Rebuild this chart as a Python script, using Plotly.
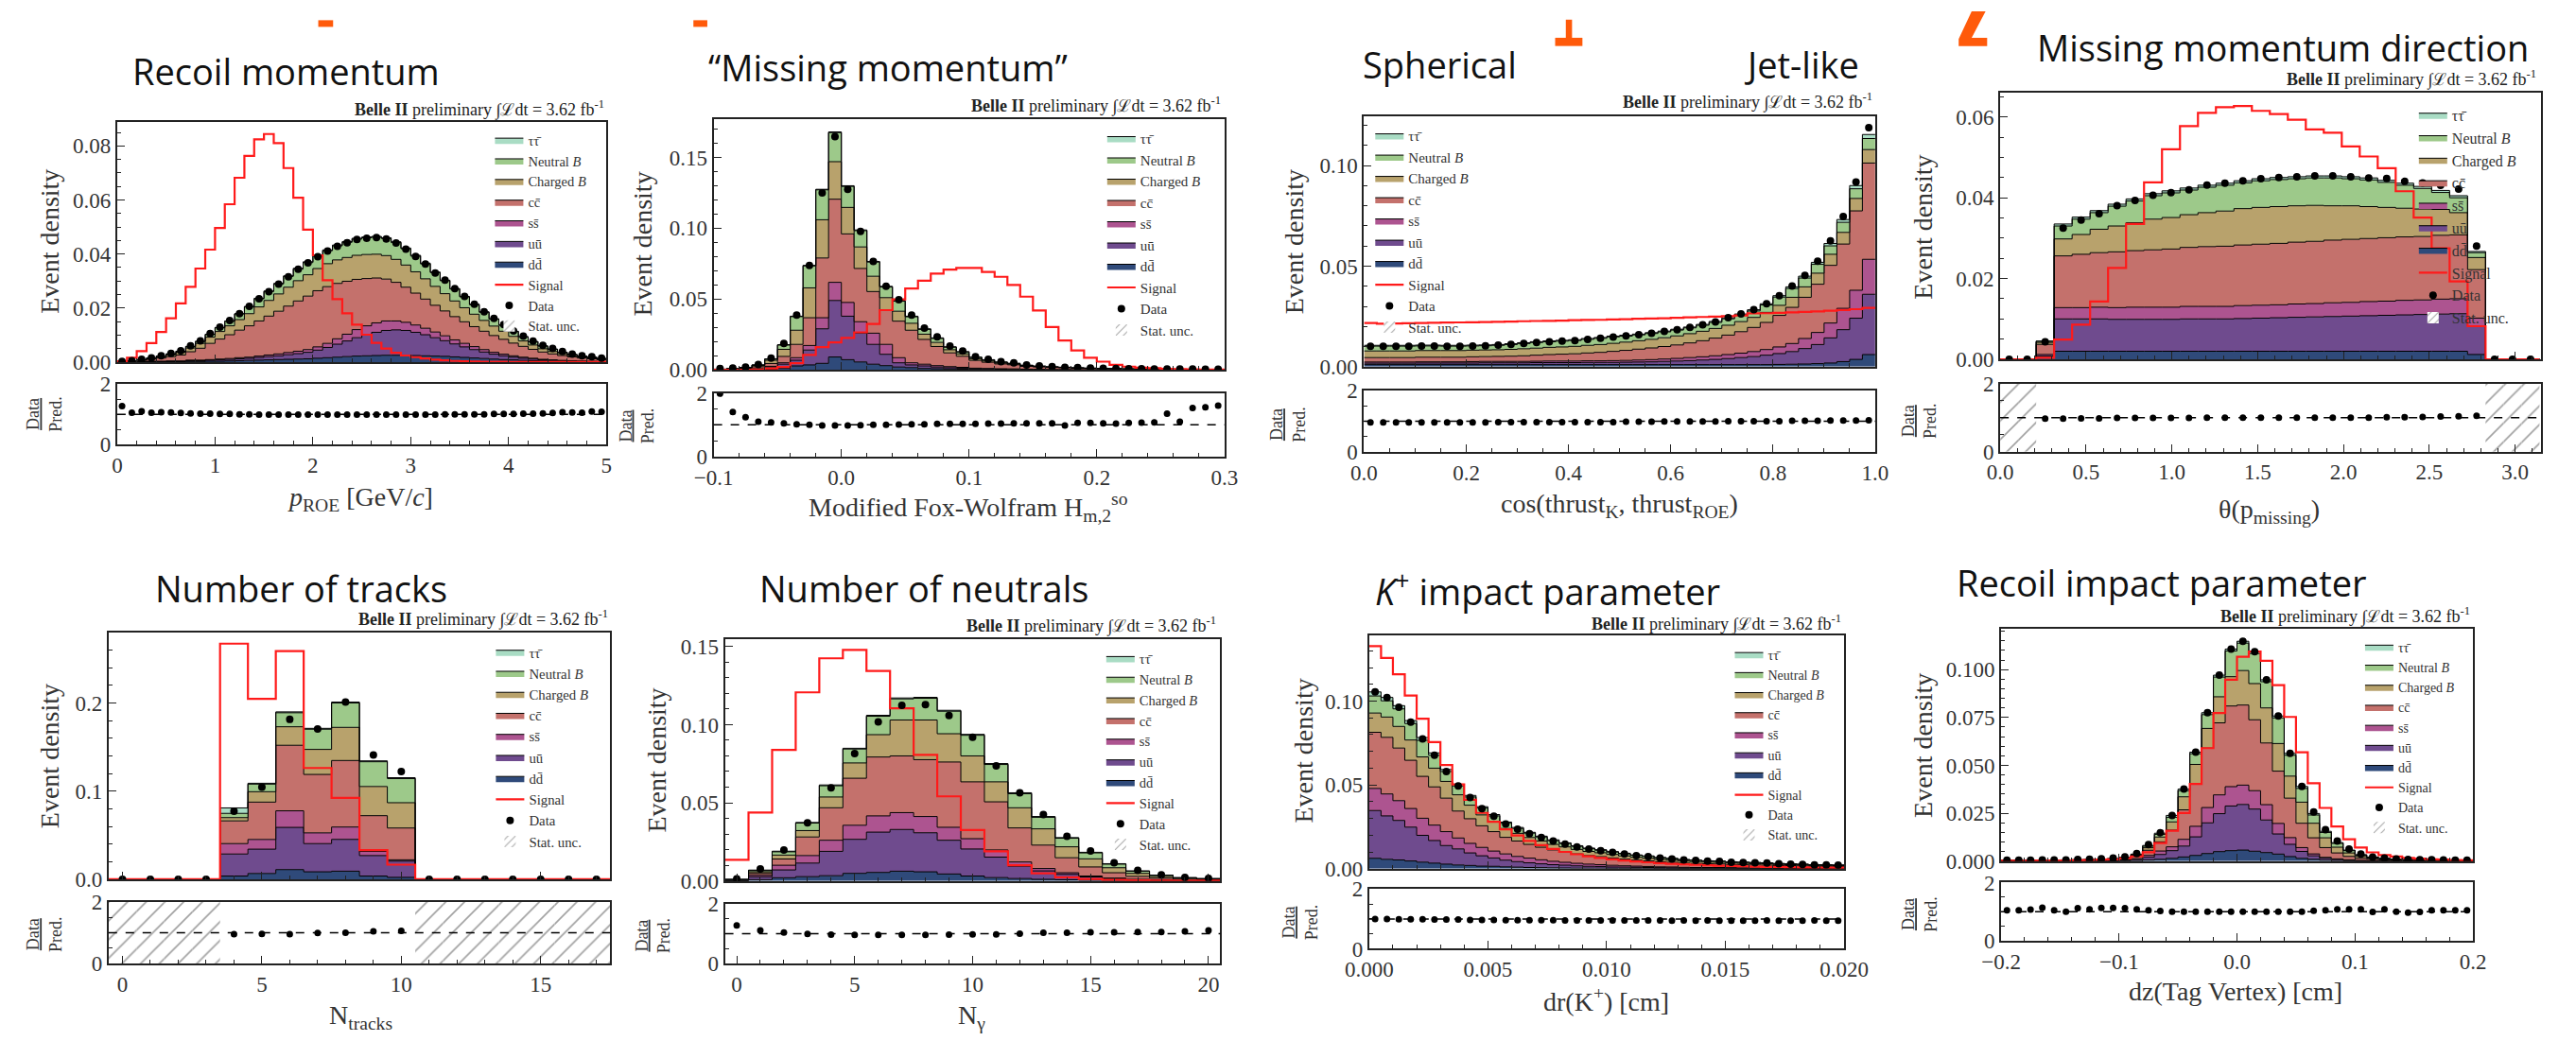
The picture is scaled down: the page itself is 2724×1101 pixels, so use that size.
import numpy as np
import plotly.graph_objects as go

W, H = 2724, 1101
UNIT = 1e-4  # component and signal arrays are given in units of 1e-4 (event density)

STACK_ORDER = ["dd", "uu", "ss", "cc", "chB", "nB", "tau"]  # bottom -> top
NAMES = {"tau": "ττ̄", "nB": "Neutral <i>B</i>", "chB": "Charged <i>B</i>",
         "cc": "cc̄", "ss": "ss̄", "uu": "uū", "dd": "dd̄"}
COLORS = {"tau": "#a9dcc4", "nB": "#9dc98a", "chB": "#b8a26c", "cc": "#c4716c",
          "ss": "#ad5490", "uu": "#6f4b8e", "dd": "#2f4a7a"}
RANK = {"tau": 1, "nB": 2, "chB": 3, "cc": 4, "ss": 5, "uu": 6, "dd": 7}

# ---------------- Panel 1: p_ROE (0..5, 50 bins)
p1_dd = [0,0,0,1,1, 1,1,2,2,3, 3,4,5,6,7, 8,9,10,11,12, 14,16,18,20,22, 23,24,25,25,25, 24,23,22,21,19, 17,15,13,11,9, 8,6,5,4,3, 3,2,2,1,1]
p1_uu = [0,0,1,1,1, 2,2,3,3,4, 5,6,7,8,10, 12,14,17,20,24, 30,38,48,58,68, 78,86,92,94,92, 86,78,68,58,48, 39,31,24,18,14, 10,8,6,4,3, 2,2,1,1,1]
p1_ss = [0,0,0,1,1, 1,1,2,2,2, 3,3,4,4,5, 6,7,8,9,10, 12,15,20,25,30, 33,35,35,33,30, 27,24,21,18,15, 13,11,9,7,6, 5,4,3,2,2, 1,1,1,1,0]
p1_cc = [1,3,5,8,12, 16,22,31,44,60, 74,88,102,116,130, 144,158,172,186,198, 208,210,205,196,186, 175,166,155,143,130, 118,108,99,92,86, 80,74,68,62,55, 47,40,33,27,22, 18,14,11,9,7]
p1_chB = [1,1,2,3,5, 7,10,14,18,23, 28,33,39,45,52, 58,64,70,75,79, 82,85,87,88,89, 89,88,87,85,82, 79,75,70,64,58, 52,46,40,35,30, 25,20,16,12,9, 7,5,4,3,2]
p1_nB = [0,1,1,1,2, 3,4,5,7,10, 14,17,21,25,30, 33,37,40,43,45, 45,48,52,56,60, 62,63,63,62,60, 58,55,51,48,44, 40,35,30,26,22, 18,15,12,10,8, 5,4,3,3,2]
p1_tau = [0,0,0,0,0, 0,0,1,1,1, 1,1,1,2,2, 2,2,2,3,3, 3,3,3,3,3, 3,3,3,3,3, 3,3,2,2,2, 2,2,2,1,1, 1,1,1,1,1, 0,0,0,0,0]
p1_signal = [3,16,40,70,111, 162,217,278,346,416, 496,584,682,763,824, 844,810,718,608,490, 395,303,233,180,138, 101,71,50,34,24, 18,13,9,6,4, 3,2,1,1,1, 0,0,0,0,0, 0,0,0,0,0]
p1_ratio = [1.27,1.05,1.10,1.05,1.07, 1.06,1.04,1.03,1.02,1.02, 1.01,1.01,1.00,1.00,0.99, 0.99,0.99,0.99,0.99,0.99,
            0.99,0.99,0.99,0.99,0.99, 0.99,0.99,0.99,0.99,0.99, 0.99,0.99,0.99,1.00,1.00, 1.00,1.00,1.00,1.01,1.01,
            1.01,1.02,1.02,1.03,1.04, 1.07,1.06,1.05,1.09,1.08]

# ---------------- Panel 2: modified Fox-Wolfram (-0.1..0.3, 40 bins)
p2_dd = [0,0,1,2,5, 12,28,35,46,91, 72,56,40,30,20, 16,10,8,6,5, 3,3,2,2,1, 1,1,1,0,0, 0,0,0,0,0, 0,0,0,0,0]
p2_uu = [1,1,2,5,15, 28,40,105,244,399, 307,204,140,80,30, 19,18,12,9,7, 5,4,3,3,2, 2,1,1,1,1, 1,1,0,0,0, 0,0,0,0,0]
p2_ss = [0,1,1,2,5, 10,18,32,78,128, 97,80,79,70,36, 15,12,10,8,6, 4,3,3,2,2, 1,1,1,1,1, 0,0,0,0,0, 0,0,0,0,0]
p2_cc = [3,4,7,13,20, 45,94,196,422,587, 484,376,294,240,258, 230,175,135,97,78, 55,44,34,29,20, 17,14,12,10,8, 7,6,5,5,4, 3,3,3,2,2]
p2_chB = [1,2,4,9,23, 50,100,211,270,265, 187,152,108,90,70, 49,37,29,22,17, 12,9,7,5,4, 3,2,2,1,1, 1,1,1,1,1, 1,1,0,0,0]
p2_nB = [0,1,1,4,9, 30,96,155,211,205, 148,115,100,75,71, 46,34,28,18,13, 9,7,5,4,3, 2,2,1,1,1, 1,1,1,0,0, 0,0,0,0,0]
p2_tau = [0,0,0,0,0, 3,3,4,4,5, 5,5,5,5,5, 4,4,4,3,3, 2,2,2,2,1, 1,1,1,1,1, 1,1,1,1,1, 1,1,1,1,1]
p2_signal = [0,0,0,3,10, 20,47,105,160,194, 226,265,324,422,498, 574,629,680,708,720, 720,692,657,599,517, 419,303,207,137,86, 58,35,23,16,12, 8,6,4,3,2]
p2_ratio = [1.98,1.40,1.24,1.10,1.08, 1.05,1.02,1.00,0.98,0.98, 0.98,0.99,1.00,1.00,1.01, 1.02,1.02,1.03,1.03,1.03,
            1.03,1.04,1.04,1.05,1.05, 1.05,1.05,0.98,1.06,1.06, 1.05,1.04,1.06,1.07,1.08, 1.35,1.10,1.53,1.55,1.60]

# ---------------- Panel 3: cos(thrust_K, thrust_ROE) (0..1, 40 bins)
p3_dd = [10,10,10,10,10, 10,10,10,10,10, 10,10,10,10,10, 10,10,10,10,10, 10,10,10,10,10, 10,10,10,10,10, 10,10,11,12,13, 15,18,25,36,60]
p3_uu = [7,7,7,7,8, 8,8,8,8,9, 9,9,9,10,10, 10,10,11,11,11, 12,13,14,16,18, 20,23,26,30,35, 40,47,54,63,77, 95,125,159,205,300]
p3_ss = [6,6,6,6,6, 6,6,6,7,7, 7,7,7,7,8, 8,8,8,8,9, 9,10,11,12,13, 15,16,18,20,22, 25,28,33,40,50, 60,74,106,139,174]
p3_cc = [22,22,22,22,23, 23,23,23,24,24, 25,26,28,30,32, 34,36,39,42,46, 50,54,58,62,67, 73,80,88,97,107, 120,135,157,180,205, 240,287,320,395,479]
p3_chB = [33,33,33,33,33, 33,33,33,33,33, 33,34,35,35,36, 36,37,38,39,40, 41,42,43,44,45, 46,47,48,49,50, 50,50,50,50,52, 55,55,58,62,67]
p3_nB = [24,24,24,24,23, 23,22,22,21,21, 22,24,26,28,28, 29,29,30,31,32, 30,29,29,29,29, 29,30,30,32,33, 32,37,41,44,44, 44,42,50,48,55]
p3_tau = [4,4,4,4,4, 4,4,4,4,4, 4,4,4,4,4, 4,4,4,4,4, 4,4,4,4,4, 4,4,5,5,5, 6,6,7,8,9, 10,12,14,16,20]
p3_signal = [217,214,215,216,217, 218,219,220,221,222, 223,224,226,227,228, 229,231,232,233,235, 236,238,239,241,243, 245,247,249,251,255, 265,266,268,270,272, 275,278,282,286,292]
p3_ratio = [0.96,0.96,0.96,0.96,0.96, 0.96,0.96,0.96,0.96,0.96, 0.97,0.97,0.97,0.97,0.97, 0.97,0.97,0.97,0.97,0.97,
            0.98,0.98,0.98,0.99,0.99, 0.99,0.99,0.99,1.00,1.00, 1.00,1.00,1.00,1.01,1.01, 1.01,1.02,1.02,1.02,1.03]

# ---------------- Panel 4: theta(p_missing) (0..pi, 30 bins)
p4_dd = [0,0,4,20,20, 20,20,20,20,20, 20,20,20,20,20, 20,20,20,20,20, 20,20,20,20,20, 20,12,0,0,0]
p4_uu = [0,0,4,80,80, 80,79,79,79,79, 80,80,80,81,82, 83,84,85,86,87, 88,89,90,91,92, 93,70,0,0,0]
p4_ss = [0,0,4,28,28, 29,29,30,30,30, 31,31,31,32,32, 32,33,33,34,34, 35,35,36,36,37, 37,20,0,0,0]
p4_cc = [0,0,25,128,132, 135,138,140,142,144, 146,148,149,150,151, 152,153,154,155,156, 156,157,157,157,158, 158,120,0,0,0]
p4_chB = [0,0,5,42,49, 58,64,69,76,78, 81,84,87,90,91, 91,90,89,85,83, 79,75,71,68,64, 55,30,0,0,0]
p4_nB = [0,0,3,32,38, 41,49,54,58,61, 61,63,64,64,66, 67,67,68,69,67, 66,62,57,51,42, 37,12,0,0,0]
p4_tau = [0,0,0,5,5, 5,5,5,5,5, 5,5,5,5,5, 5,5,5,5,5, 5,5,5,5,5, 5,3,0,0,0]
p4_signal = [0,0,4,49,86, 143,226,335,438,520, 577,610,624,627,615, 607,593,569,561,527, 502,473,416,351,275, 193,82,0,0,0]
p4_ratio = [None,None,0.97,0.97,0.98, 0.98,0.99,0.99,0.99,0.99, 0.99,1.00,1.00,1.00,1.00,
            1.00,1.00,1.00,1.00,1.00, 1.00,1.01,1.01,1.02,1.03, 1.04,1.05,None,None,None]

# ---------------- Panel 5: N_tracks (0..17)
p5_dd = [0,0,0,0,37, 66,110,85,92,37, 22,0,0,0,0, 0,0,0]
p5_uu = [0,0,0,0,250, 276,479,320,361,232, 184,0,0,0,0, 0,0,0]
p5_ss = [0,0,0,0,118, 110,188,122,140,48, 15,0,0,0,0, 0,0,0]
p5_cc = [0,0,0,0,258, 424,744,663,755,405, 361,0,0,0,0, 0,0,0]
p5_chB = [0,0,0,0,37, 118,210,284,376,331, 287,0,0,0,0, 0,0,0]
p5_nB = [0,0,0,0,48, 86,159,229,277,281, 274,0,0,0,0, 0,0,0]
p5_tau = [0,0,0,0,62, 10,10,10,10,10, 10,0,0,0,0, 0,0,0]
p5_signal = [0,0,0,0,2674, 2048,2589,1263,924,331, 166,0,0,0,0, 0,0,0]
p5_ratio = [None,None,None,None,0.955, 0.96,0.955,0.995,1.00,1.05, 1.06,None,None,None,None, None,None,None]

# ---------------- Panel 6: N_neutrals (0..20)
p6_dd = [1,8,20,27,33, 48,54,62,58,44, 31,21,15,10,7, 4,2,1,1,0, 0]
p6_uu = [3,18,50,87,156, 218,258,267,250,216, 173,131,79,54,35, 21,12,7,4,2, 2]
p6_ss = [1,10,30,48,71, 90,104,108,104,83, 66,46,27,15,10, 6,4,2,1,1, 0]
p6_cc = [2,12,40,119,208, 301,377,363,364,418, 364,308,218,150,96, 58,34,19,11,6, 4]
p6_chB = [1,10,25,41,69, 98,143,230,254,181, 166,128,129,104,70, 52,32,19,11,6, 5]
p6_nB = [1,8,21,48,72, 89,118,135,139,144, 132,111,90,74,55, 38,23,14,8,5, 3]
p6_tau = [1,3,4,4,5, 5,6,6,6,6, 6,6,6,5,4, 4,3,2,1,1, 1]
p6_signal = [135,437,838,1207,1425, 1479,1344,1105,807,541, 325,189,100,48,23, 12,6,3,2,1, 1]
p6_ratio = [1.28,1.11,1.04,0.995,0.97, 0.96,0.96,0.96,0.96,0.97, 0.98,0.98,1.00,1.03,1.03, 1.05,1.05,1.06,1.06,1.08, 1.11]

# ---------------- Panel 7: dr(K+) (0..0.02, 40 bins)
p7_dd = [62,56,52,46,39, 33,27,22,19,15, 14,11,9,7,6, 5,4,3,3,3, 2,2,2,2,1, 1,1,1,1,1, 1,1,1,1,0, 0,0,0,0,0]
p7_uu = [285,259,236,202,160, 135,111,96,75,62, 50,40,33,28,23, 19,17,14,11,10, 8,7,6,5,5, 4,3,3,3,3, 2,2,2,2,2, 2,2,2,2,2]
p7_ss = [132,131,118,111,102, 92,83,65,57,50, 41,37,31,28,24, 20,17,15,13,11, 10,8,7,6,5, 5,4,3,3,3, 3,2,2,2,2, 2,1,1,1,1]
p7_cc = [335,338,314,288,250, 228,200,161,147,129, 116,99,92,82,75, 68,62,56,51,48, 44,40,36,34,30, 28,25,24,22,21, 19,18,17,16,14, 14,13,11,11,10]
p7_chB = [115,121,129,121,116, 112,100,97,81,65, 57,53,46,41,37, 33,30,27,25,23, 21,19,17,16,14, 13,12,11,10,10, 9,9,8,8,7, 6,6,5,5,5]
p7_nB = [102,97,105,98,99, 77,59,53,49,41, 37,31,29,26,24, 22,20,18,16,15, 14,13,12,11,10, 9,8,8,7,7, 6,6,6,5,5, 4,4,4,4,3]
p7_tau = [24,20,19,18,17, 14,12,10,9,8, 8,7,6,5,5, 5,4,4,4,3, 3,3,2,2,2, 2,2,2,1,1, 1,1,1,1,1, 1,1,1,1,1]
p7_signal = [1328,1258,1160,1033,895, 755,619,503,411,333, 280,235,198,166,140, 118,100,86,74,64, 56,49,43,38,33, 29,26,23,20,18, 16,14,12,11,10, 9,8,7,6,6]
p7_ratio = [1.00,1.00,0.99,0.99,0.99, 0.98,0.98,0.98,0.97,0.97, 0.97,0.96,0.96,0.96,0.96, 0.96,0.95,0.95,0.95,0.95,
            0.95,0.95,0.95,0.95,0.95, 0.94,0.95,0.94,0.95,0.94, 0.94,0.94,0.94,0.95,0.94, 0.94,0.94,0.95,0.94,0.94]

# ---------------- Panel 8: dz(Tag Vertex) (-0.2..0.2, 40 bins)
p8_dd = [0,0,0,0,0, 0,1,1,1,1, 2,3,6,10,15, 22,30,40,50,55, 58,52,45,37,24, 15,10,5,3,2, 1,1,0,0,0, 0,0,0,0,0]
p8_uu = [1,1,1,1,1, 1,1,1,2,2, 3,6,14,25,40, 57,97,160,198,233, 238,220,170,105,64, 36,18,10,6,3, 2,1,1,1,1, 1,0,0,0,0]
p8_ss = [0,0,0,0,0, 1,1,1,1,1, 2,4,10,18,20, 35,55,80,98,101, 101,96,80,55,35, 20,10,5,3,2, 1,1,1,0,0, 0,0,0,0,0]
p8_cc = [2,2,2,2,2, 2,2,3,3,4, 6,12,27,48,87, 154,223,310,376,421, 418,370,322,273,206, 127,84,51,31,18, 11,7,5,4,3, 3,3,2,2,2]
p8_chB = [1,1,1,1,1, 1,1,1,2,2, 3,6,13,25,43, 68,100,103,136,153, 180,189,183,144,115, 110,76,51,30,18, 10,6,4,3,2, 2,2,2,1,1]
p8_nB = [0,0,0,1,1, 1,1,1,1,2, 2,4,8,14,24, 32,56,72,103,134, 143,157,137,134,109, 72,43,28,20,12, 7,5,3,2,2, 1,1,1,1,1]
p8_tau = [1,1,1,1,1, 1,1,1,1,2, 2,2,4,6,10, 8,8,10,10,10, 10,10,10,10,10, 10,8,6,4,3, 2,1,1,1,1, 1,1,1,1,1]
p8_signal = [2,2,2,3,3, 4,5,6,8,10, 15,25,47,95,159, 251,403,590,773,947, 1067,1094,1046,919,753, 568,407,278,181,114, 71,46,32,24,17, 13,10,8,6,5]
p8_ratio = [1.05,1.05,1.07,1.14,1.05, 1.00,1.12,1.08,1.13,1.13, 1.12,1.08,1.05,1.02,1.00, 1.00,1.00,1.00,1.00,1.00,
            1.00,1.00,1.00,1.00,1.00, 1.00,1.03,1.05,1.08,1.08, 1.08,0.99,1.08,1.00,0.97, 0.99,1.05,1.05,1.05,1.05]

PANEL_DATA = [
    dict(bins=(0.0, 5.0, 50), dd=p1_dd, uu=p1_uu, ss=p1_ss, cc=p1_cc, chB=p1_chB, nB=p1_nB, tau=p1_tau, signal=p1_signal, ratio=p1_ratio),
    dict(bins=(-0.1, 0.3, 40), dd=p2_dd, uu=p2_uu, ss=p2_ss, cc=p2_cc, chB=p2_chB, nB=p2_nB, tau=p2_tau, signal=p2_signal, ratio=p2_ratio),
    dict(bins=(0.0, 1.0, 40), dd=p3_dd, uu=p3_uu, ss=p3_ss, cc=p3_cc, chB=p3_chB, nB=p3_nB, tau=p3_tau, signal=p3_signal, ratio=p3_ratio),
    dict(bins=(0.0, np.pi, 30), dd=p4_dd, uu=p4_uu, ss=p4_ss, cc=p4_cc, chB=p4_chB, nB=p4_nB, tau=p4_tau, signal=p4_signal, ratio=p4_ratio),
    dict(bins=(-0.5, 17.5, 18), dd=p5_dd, uu=p5_uu, ss=p5_ss, cc=p5_cc, chB=p5_chB, nB=p5_nB, tau=p5_tau, signal=p5_signal, ratio=p5_ratio),
    dict(bins=(-0.5, 20.5, 21), dd=p6_dd, uu=p6_uu, ss=p6_ss, cc=p6_cc, chB=p6_chB, nB=p6_nB, tau=p6_tau, signal=p6_signal, ratio=p6_ratio),
    dict(bins=(0.0, 0.02, 40), dd=p7_dd, uu=p7_uu, ss=p7_ss, cc=p7_cc, chB=p7_chB, nB=p7_nB, tau=p7_tau, signal=p7_signal, ratio=p7_ratio),
    dict(bins=(-0.2, 0.2, 40), dd=p8_dd, uu=p8_uu, ss=p8_ss, cc=p8_cc, chB=p8_chB, nB=p8_nB, tau=p8_tau, signal=p8_signal, ratio=p8_ratio),
]

# ---------------- geometry / styling (pixels of the 2724x1101 page)
GEOM = [
    dict(x=(99.8, 627.3), main=(119.6, 379.5), ratio=(403.4, 468.7), xr=(0, 5), xt=(0, 1, 0.2), xfmt="d",
         ymax=0.0889, yt=(0.02, 0.005), yfmt=".2f", leg=(502, 123, 14.5), belle=(627, 105),
         titles=[("Recoil momentum", 113.7, 64)], ylab=(27, 249), rlab=(21, 436),
         xlab=("<i>p</i><sub>ROE</sub> [GeV/<i>c</i>]", 362, 527)),
    dict(x=(742.8, 1293.6), main=(116.7, 388), ratio=(413, 482), xr=(-0.1, 0.3), xt=(-0.1, 0.1, 0.02), xfmt=".1f",
         ymax=0.177, yt=(0.05, 0.01), yfmt=".2f", leg=(1162, 121, 15), belle=(1292, 101.7),
         titles=[("“Missing momentum”", 735, 60.7)], ylab=(666, 252), rlab=(660, 448),
         xlab=("Modified Fox-Wolfram H<sub>m,2</sub><sup>so</sup>", 1017, 537)),
    dict(x=(1444, 1995), main=(113.5, 384.5), ratio=(410, 477), xr=(0, 1), xt=(0, 0.2, 0.05), xfmt=".1f",
         ymax=0.1246, yt=(0.05, 0.01), yfmt=".2f", leg=(1451, 118, 15), belle=(1994, 97),
         titles=[("Spherical", 1440.5, 57), ("Jet-like", 1851, 57)], ylab=(1368, 249), rlab=(1362, 447),
         xlab=("cos(thrust<sub>K</sub>, thrust<sub>ROE</sub>)", 1719, 535)),
    dict(x=(2129.8, 2712.7), main=(88, 376.6), ratio=(402.7, 476.6), xr=(0, 3.15), xt=(0, 0.5, 0.1), xfmt=".1f",
         ymax=0.066, yt=(0.02, 0.005), yfmt=".2f", leg=(2576, 95, 16), belle=(2710, 73),
         titles=[("Missing momentum direction", 2167, 39.3)], ylab=(2047, 233), rlab=(2043, 443),
         xlab=("θ(p<sub>missing</sub>)", 2420, 541)),
    dict(x=(90.5, 631.5), main=(672, 939.3), ratio=(964, 1030.4), xr=(-0.5, 17.5), xt=(0, 5, 1), xfmt="d",
         ymax=0.2803, yt=(0.1, 0.02), yfmt=".1f", leg=(503, 677, 14.8), belle=(631.5, 657),
         titles=[("Number of tracks", 139, 624)], ylab=(27, 806), rlab=(21, 999),
         xlab=("N<sub>tracks</sub>", 362, 1088)),
    dict(x=(755, 1289), main=(679, 941), ratio=(965.7, 1030.7), xr=(-0.5, 20.5), xt=(0, 5, 1), xfmt="d",
         ymax=0.155, yt=(0.05, 0.01), yfmt=".2f", leg=(1161, 684, 14.5), belle=(1287, 664),
         titles=[("Number of neutrals", 789.6, 624)], ylab=(682, 810), rlab=(677, 1000),
         xlab=("N<sub>γ</sub>", 1021, 1088)),
    dict(x=(1449.5, 1961.5), main=(675.8, 927.8), ratio=(950, 1014.5), xr=(0, 0.02), xt=(0, 0.005, 0.001), xfmt=".3f",
         ymax=0.139, yt=(0.05, 0.01), yfmt=".2f", leg=(1838.6, 680, 14), belle=(1960.6, 661.7),
         titles=[("<i>K</i><sup>+</sup> impact parameter", 1454, 625.5)], ylab=(1379, 800), rlab=(1375, 986),
         xlab=("dr(K<sup>+</sup>) [cm]", 1705, 1070)),
    dict(x=(2130.7, 2639.4), main=(668.4, 919.7), ratio=(942.9, 1005.8), xr=(-0.2, 0.2), xt=(-0.2, 0.1, 0.02), xfmt=".1f",
         ymax=0.1212, yt=(0.025, 0.005), yfmt=".3f", leg=(2518, 672, 14), belle=(2638.5, 653.7),
         titles=[("Recoil impact parameter", 2080.6, 618.5)], ylab=(2047, 794), rlab=(2043, 977),
         xlab=("dz(Tag Vertex) [cm]", 2383, 1061)),
]

SERIF = "Liberation Serif"
SANS = "Open Sans"
AXC = "#222222"
ORANGE = "#ff5a0a"


def px(x):
    return x / W


def py(y):
    return 1 - y / H


fig = go.Figure()
layout = dict(width=W, height=H, margin=dict(l=0, r=0, t=0, b=0), paper_bgcolor="white",
              plot_bgcolor="white", showlegend=True, barmode="overlay")
annotations, shapes = [], []

for i, (P, G) in enumerate(zip(PANEL_DATA, GEOM)):
    m, r = 2 * i + 1, 2 * i + 2
    mx, my = ("x", "y") if m == 1 else (f"x{m}", f"y{m}")
    rx, ry = f"x{r}", f"y{r}"
    leg = "legend" if i == 0 else f"legend{i + 1}"

    x0, x1, nb = P["bins"]
    edges = np.linspace(x0, x1, nb + 1)
    centers = 0.5 * (edges[:-1] + edges[1:])
    width = edges[1] - edges[0]

    pred = np.zeros(nb)
    for key in STACK_ORDER:
        vals = np.array(P[key], dtype=float) * UNIT
        pred += vals
        fig.add_trace(go.Scatter(
            x=edges, y=np.append(vals, vals[-1]), mode="lines", stackgroup=f"s{i}",
            line=dict(shape="hv", color="black", width=1), fillcolor=COLORS[key],
            name=NAMES[key], legend=leg, legendrank=RANK[key], xaxis=mx, yaxis=my,
            hoverinfo="skip"))

    sig = np.array(P["signal"], dtype=float) * UNIT
    fig.add_trace(go.Scatter(x=edges, y=np.append(sig, sig[-1]), mode="lines",
                             line=dict(shape="hv", color="#ff1a1a", width=2.2),
                             name="Signal", legend=leg, legendrank=8, xaxis=mx, yaxis=my))

    ratio = P["ratio"]
    data = [p * q if q is not None else 0.0 for p, q in zip(pred, ratio)]
    fig.add_trace(go.Scatter(x=centers, y=data, mode="markers",
                             marker=dict(color="black", size=8), name="Data",
                             legend=leg, legendrank=9, xaxis=mx, yaxis=my))
    fig.add_trace(go.Bar(x=[None], y=[None], name="Stat. unc.", legend=leg, legendrank=10,
                         marker=dict(color="white", line=dict(width=0),
                                     pattern=dict(shape="/", fgcolor="#555", bgcolor="white", size=7, solidity=0.2)),
                         xaxis=mx, yaxis=my))

    # ratio panel
    empty = [c for c, p in zip(centers, pred) if p == 0]
    if empty:
        fig.add_trace(go.Bar(x=empty, y=[2.0] * len(empty), width=width, base=0, showlegend=False,
                             marker=dict(color="white", line=dict(width=0),
                                         pattern=dict(shape="/", fgcolor="#444", bgcolor="white", size=14, solidity=0.12)),
                             xaxis=rx, yaxis=ry, hoverinfo="skip"))
    fig.add_trace(go.Scatter(x=centers, y=ratio, mode="markers", marker=dict(color="black", size=7),
                             showlegend=False, xaxis=rx, yaxis=ry))
    shapes.append(dict(type="line", xref=f"{rx} domain", yref=ry, x0=0, x1=1, y0=1, y1=1,
                       line=dict(color="black", width=1.5, dash="dash")))

    # axes
    xd = [px(G["x"][0]), px(G["x"][1])]
    tick0, dtick, mdt = G["xt"]
    tickfont = dict(family=SERIF, size=23, color="#333")
    base_ax = dict(showline=True, linecolor=AXC, linewidth=2, mirror=True, ticks="inside", ticklen=8,
                   tickwidth=1.2, tickcolor=AXC, showgrid=False, zeroline=False, tickfont=tickfont)
    xa_main = dict(base_ax, domain=xd, range=list(G["xr"]), anchor=my, tickmode="linear", tick0=tick0,
                   dtick=dtick, showticklabels=False,
                   minor=dict(ticks="inside", ticklen=4, tickwidth=1, tickcolor=AXC, tick0=tick0, dtick=mdt))
    xa_ratio = dict(base_ax, domain=xd, range=list(G["xr"]), anchor=ry, tickmode="linear", tick0=tick0,
                    dtick=dtick, tickformat=G["xfmt"],
                    minor=dict(ticks="inside", ticklen=4, tickwidth=1, tickcolor=AXC, tick0=tick0, dtick=mdt))
    ydt, ymdt = G["yt"]
    ya_main = dict(base_ax, domain=[py(G["main"][1]), py(G["main"][0])], range=[0, G["ymax"]], anchor=mx,
                   tickmode="linear", tick0=0, dtick=ydt, tickformat=G["yfmt"],
                   minor=dict(ticks="inside", ticklen=4, tickwidth=1, tickcolor=AXC, tick0=0, dtick=ymdt))
    ya_ratio = dict(base_ax, domain=[py(G["ratio"][1]), py(G["ratio"][0])], range=[0, 2], anchor=rx,
                    tickmode="linear", tick0=0, dtick=2, tickformat="d",
                    minor=dict(ticks="inside", ticklen=4, tickwidth=1, tickcolor=AXC, tick0=0, dtick=0.5))
    layout["xaxis" if m == 1 else f"xaxis{m}"] = xa_main
    layout["yaxis" if m == 1 else f"yaxis{m}"] = ya_main
    layout[f"xaxis{r}"] = xa_ratio
    layout[f"yaxis{r}"] = ya_ratio

    lx, ly, lsize = G["leg"]
    layout[leg] = dict(x=px(lx), y=py(ly), xanchor="left", yanchor="top", bgcolor="rgba(0,0,0,0)",
                       borderwidth=0, traceorder="normal", tracegroupgap=0, itemwidth=30,
                       font=dict(family=SERIF, size=lsize, color="#333"))

    # texts
    for (txt, tx, ty) in G["titles"]:
        annotations.append(dict(text=txt, x=px(tx), y=py(ty), xref="paper", yref="paper", xanchor="left",
                                yanchor="middle", showarrow=False, font=dict(family=SANS, size=38, color="#111")))
    bx, by = G["belle"]
    annotations.append(dict(text="<b>Belle II</b> preliminary ∫ℒdt = 3.62 fb<sup>-1</sup>", x=px(bx), y=py(by),
                            xref="paper", yref="paper", xanchor="right", yanchor="middle", showarrow=False,
                            font=dict(family=SERIF, size=18, color="#222")))
    annotations.append(dict(text="Event density", x=px(G["ylab"][0]), y=py(G["ylab"][1]), xref="paper",
                            yref="paper", textangle=-90, showarrow=False, xanchor="center", yanchor="middle",
                            font=dict(family=SERIF, size=28, color="#333")))
    annotations.append(dict(text="<u>Data</u><br>Pred.", x=px(G["rlab"][0]), y=py(G["rlab"][1]), xref="paper",
                            yref="paper", textangle=-90, showarrow=False, xanchor="center", yanchor="middle",
                            font=dict(family=SERIF, size=18, color="#333")))
    xt_txt, xx, xy = G["xlab"]
    annotations.append(dict(text=xt_txt, x=px(xx), y=py(xy), xref="paper", yref="paper", showarrow=False,
                            xanchor="center", yanchor="middle", font=dict(family=SERIF, size=28, color="#333")))

# orange decorative fragments at the top edge
for (a, b, c, d) in [(316.6, 332.6, 9.6, 16.8), (721, 736, 9.6, 16.8), (1661.5, 1668.2, 9, 29),
                     (1650, 1679.4, 28.6, 37.5)]:
    shapes.append(dict(type="rect", xref="paper", yref="paper", x0=px(a), x1=px(b), y0=py(d), y1=py(c),
                       fillcolor=ORANGE, line=dict(width=0)))
pts = [(2099, 0), (2114, 0), (2099, 28.6), (2115.7, 28.6), (2115.7, 37.5), (2085, 37.5), (2085, 30)]
path = "M " + " L ".join(f"{px(a):.5f},{py(b):.5f}" for a, b in pts) + " Z"
shapes.append(dict(type="path", xref="paper", yref="paper", path=path, fillcolor=ORANGE, line=dict(width=0)))

layout["annotations"] = annotations
layout["shapes"] = shapes
fig.update_layout(**layout)
fig.write_html("out.html", config={"displayModeBar": False})
